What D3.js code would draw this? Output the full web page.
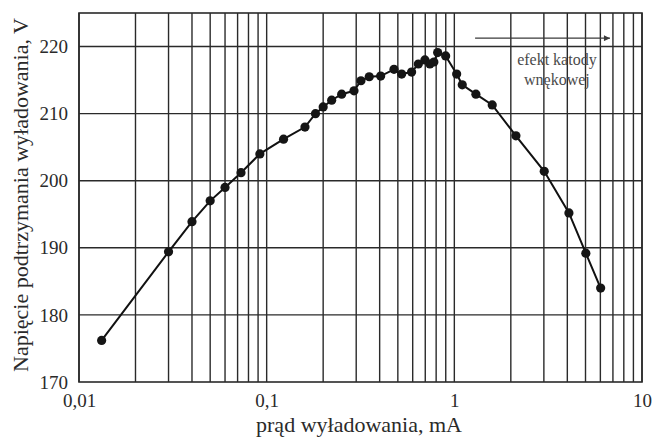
<!DOCTYPE html>
<html><head><meta charset="utf-8">
<script src="https://cdn.jsdelivr.net/npm/d3@7"></script>
<style>
html,body{margin:0;padding:0;background:#fff;}
svg{display:block;font-family:"Liberation Serif","Times New Roman",serif;}
</style></head>
<body><svg id="chart" width="653" height="437"></svg>
<script>
// data: discharge current (mA) and sustaining voltage (V)
const currentMA = [0.0132,0.030,0.040,0.050,0.060,0.073,0.092,0.123,0.160,0.182,0.200,0.222,0.251,0.292,0.318,0.352,0.405,0.477,0.524,0.592,0.643,0.697,0.741,0.778,0.815,0.899,1.029,1.102,1.303,1.592,2.129,3.013,4.08,5.02,6.02];
const voltageV  = [176.2,189.4,193.9,197.0,199.0,201.2,204.0,206.2,208.0,210.0,211.0,212.0,212.9,213.4,214.9,215.5,215.6,216.6,215.9,216.2,217.4,218.0,217.4,217.7,219.1,218.6,215.9,214.3,212.9,211.3,206.7,201.4,195.2,189.2,184.0];
const xTickValues = [0.01,0.1,1,10];
const xTickLabels = ["0,01","0,1","1","10"];
const yTickValues = [170,180,190,200,210,220];
const xTitle = "prąd wyładowania, mA";
const yTitle = "Napięcie podtrzymania wyładowania, V";
const noteLines = ["efekt katody","wnękowej"];
const noteX = 3.52, noteY = [217.27,214.3];
const arrowX = [1.29,6.75], arrowY = 221.25;

(function(){
const svg = d3.select("#chart");
const pLeft=79, pRight=642, pTop=13, pBottom=382;
const x = d3.scaleLog().domain([0.01,10]).range([pLeft,pRight]);
const y = d3.scaleLinear().domain([170,225]).range([pBottom,pTop]);
const ink = "#2a2a2a";

// vertical grid: every 1..9 x decade
const vGrid = [];
[0.01,0.1,1].forEach(d=>{for(let k=1;k<=9;k++) vGrid.push(d*k);});
vGrid.push(10);
svg.append("g").selectAll("line").data(vGrid).join("line")
  .attr("x1",d=>x(d)).attr("x2",d=>x(d)).attr("y1",pTop).attr("y2",pBottom)
  .attr("stroke",ink).attr("stroke-width",1.4);
svg.append("g").selectAll("line").data([180,190,200,210,220]).join("line")
  .attr("x1",pLeft).attr("x2",pRight).attr("y1",d=>y(d)).attr("y2",d=>y(d))
  .attr("stroke",ink).attr("stroke-width",1.4);
svg.append("rect").attr("x",pLeft).attr("y",pTop).attr("width",pRight-pLeft).attr("height",pBottom-pTop)
  .attr("fill","none").attr("stroke",ink).attr("stroke-width",1.6);

const yAxis = d3.axisLeft(y).tickValues(yTickValues).tickSize(0).tickPadding(11);
const gy = svg.append("g").attr("transform",`translate(${pLeft},0)`).call(yAxis);
gy.select(".domain").remove();
gy.selectAll("text").attr("font-size",19).attr("fill",ink).attr("font-family","Liberation Serif");

const xAxis = d3.axisBottom(x).tickValues(xTickValues).tickFormat((d,i)=>xTickLabels[i]).tickSize(0).tickPadding(11.5);
const gx = svg.append("g").attr("transform",`translate(0,${pBottom})`).call(xAxis);
gx.select(".domain").remove();
gx.selectAll("text").attr("font-size",19).attr("fill",ink).attr("font-family","Liberation Serif");

svg.append("text").attr("x",359).attr("y",432).attr("text-anchor","middle")
  .attr("font-size",22).attr("fill",ink).text(xTitle);
svg.append("text").attr("transform","translate(28,195) rotate(-90)").attr("text-anchor","middle")
  .attr("font-size",22).attr("fill",ink).text(yTitle);

const pts = currentMA.map((c,i)=>[c,voltageV[i]]);
svg.append("path").datum(pts)
  .attr("d",d3.line().x(d=>x(d[0])).y(d=>y(d[1])))
  .attr("fill","none").attr("stroke","#111").attr("stroke-width",2);
svg.append("g").selectAll("circle").data(pts).join("circle")
  .attr("cx",d=>x(d[0])).attr("cy",d=>y(d[1])).attr("r",4.6).attr("fill","#151515");

const ann = "#3a3a3a";
svg.append("defs").append("marker").attr("id","ah").attr("viewBox","0 0 10 10")
  .attr("refX",10).attr("refY",5).attr("markerWidth",9).attr("markerHeight",6)
  .attr("markerUnits","userSpaceOnUse").attr("orient","auto")
  .append("path").attr("d","M0,0L10,5L0,10Z").attr("fill",ann);
svg.append("line").attr("x1",x(arrowX[0])).attr("x2",x(arrowX[1]))
  .attr("y1",y(arrowY)).attr("y2",y(arrowY)).attr("stroke",ann).attr("stroke-width",1.4)
  .attr("marker-end","url(#ah)");
svg.append("g").selectAll("text").data(noteLines).join("text")
  .attr("x",x(noteX)).attr("y",(d,i)=>y(noteY[i])).attr("text-anchor","middle")
  .attr("font-size",16).attr("fill","#4a4a4a").text(d=>d);
})();
</script></body></html>
